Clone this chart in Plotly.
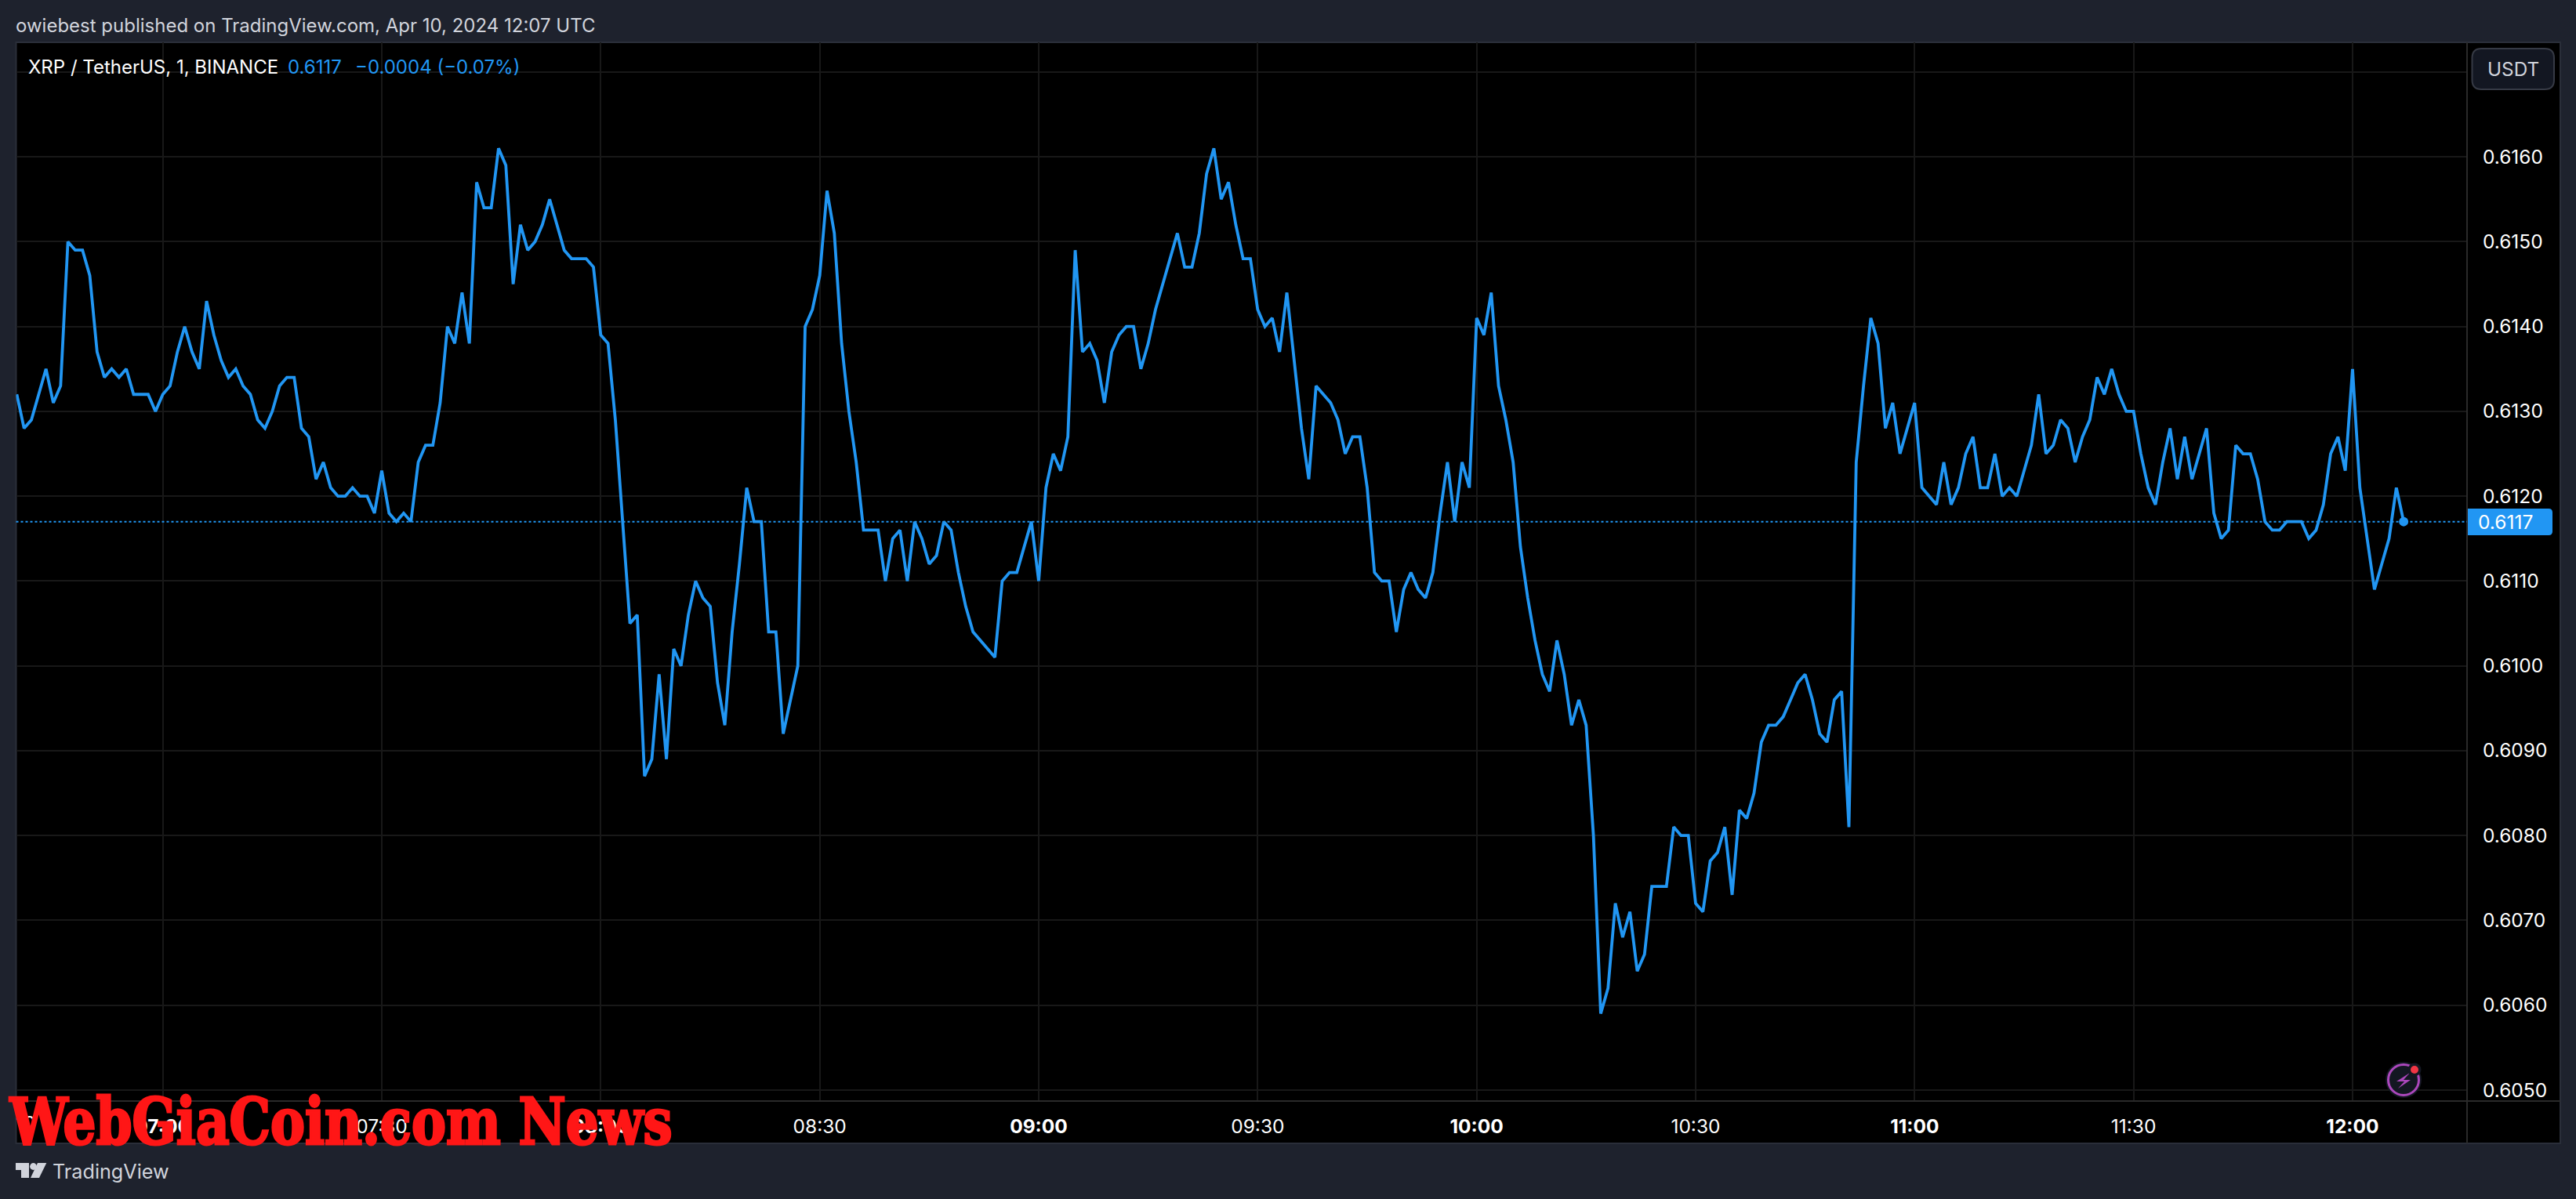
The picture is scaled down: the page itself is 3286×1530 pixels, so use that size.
import pandas as pd
import plotly.graph_objects as go

W, H = 3286, 1530

# --- data (1-minute closes, 06:40 to 12:07) ---
start_time = "2024-04-10 06:40"
closes = [
 .6132,.6128,.6129,.6132,.6135,.6131,.6133,.6150,.6149,.6149,.6146,.6137,.6134,.6135,.6134,.6135,.6132,.6132,.6132,.6130,
 .6132,.6133,.6137,.6140,.6137,.6135,.6143,.6139,.6136,.6134,.6135,.6133,.6132,.6129,.6128,.6130,.6133,.6134,.6134,.6128,
 .6127,.6122,.6124,.6121,.6120,.6120,.6121,.6120,.6120,.6118,.6123,.6118,.6117,.6118,.6117,.6124,.6126,.6126,.6131,.6140,
 .6138,.6144,.6138,.6157,.6154,.6154,.6161,.6159,.6145,.6152,.6149,.6150,.6152,.6155,.6152,.6149,.6148,.6148,.6148,.6147,
 .6139,.6138,.6129,.6117,.6105,.6106,.6087,.6089,.6099,.6089,.6102,.6100,.6106,.6110,.6108,.6107,.6098,.6093,.6104,.6112,
 .6121,.6117,.6117,.6104,.6104,.6092,.6096,.6100,.6140,.6142,.6146,.6156,.6151,.6138,.6130,.6124,.6116,.6116,.6116,.6110,
 .6115,.6116,.6110,.6117,.6115,.6112,.6113,.6117,.6116,.6111,.6107,.6104,.6103,.6102,.6101,.6110,.6111,.6111,.6114,.6117,
 .6110,.6121,.6125,.6123,.6127,.6149,.6137,.6138,.6136,.6131,.6137,.6139,.6140,.6140,.6135,.6138,.6142,.6145,.6148,.6151,
 .6147,.6147,.6151,.6158,.6161,.6155,.6157,.6152,.6148,.6148,.6142,.6140,.6141,.6137,.6144,.6136,.6128,.6122,.6133,.6132,
 .6131,.6129,.6125,.6127,.6127,.6121,.6111,.6110,.6110,.6104,.6109,.6111,.6109,.6108,.6111,.6118,.6124,.6117,.6124,.6121,
 .6141,.6139,.6144,.6133,.6129,.6124,.6114,.6108,.6103,.6099,.6097,.6103,.6099,.6093,.6096,.6093,.6080,.6059,.6062,.6072,
 .6068,.6071,.6064,.6066,.6074,.6074,.6074,.6081,.6080,.6080,.6072,.6071,.6077,.6078,.6081,.6073,.6083,.6082,.6085,.6091,
 .6093,.6093,.6094,.6096,.6098,.6099,.6096,.6092,.6091,.6096,.6097,.6081,.6124,.6133,.6141,.6138,.6128,.6131,.6125,.6128,
 .6131,.6121,.6120,.6119,.6124,.6119,.6121,.6125,.6127,.6121,.6121,.6125,.6120,.6121,.6120,.6123,.6126,.6132,.6125,.6126,
 .6129,.6128,.6124,.6127,.6129,.6134,.6132,.6135,.6132,.6130,.6130,.6125,.6121,.6119,.6124,.6128,.6122,.6127,.6122,.6125,
 .6128,.6118,.6115,.6116,.6126,.6125,.6125,.6122,.6117,.6116,.6116,.6117,.6117,.6117,.6115,.6116,.6119,.6125,.6127,.6123,
 .6135,.6121,.6115,.6109,.6112,.6115,.6121,.6117,
]
price_ticks = [0.6050,0.6060,0.6070,0.6080,0.6090,0.6100,0.6110,0.6120,0.6130,0.6140,0.6150,0.6160,0.6170]
price_labels = ["0.6050","0.6060","0.6070","0.6080","0.6090","0.6100","0.6110","0.6120","0.6130","0.6140","0.6150","0.6160",""]
time_ticks = ["2024-04-10 07:00","2024-04-10 07:30","2024-04-10 08:00","2024-04-10 08:30","2024-04-10 09:00","2024-04-10 09:30",
              "2024-04-10 10:00","2024-04-10 10:30","2024-04-10 11:00","2024-04-10 11:30","2024-04-10 12:00"]
time_labels = ["<b>07:00</b>","07:30","<b>08:00</b>","08:30","<b>09:00</b>","09:30","<b>10:00</b>","10:30","<b>11:00</b>","11:30","<b>12:00</b>"]
last_price = 0.6117
header_text = "owiebest published on TradingView.com, Apr 10, 2024 12:07 UTC"
symbol_text = "XRP / TetherUS, 1, BINANCE"
last_text = "0.6117"
change_text = "−0.0004 (−0.07%)"
watermark_text = "WebGiaCoin.com News"

times = pd.date_range(start_time, periods=len(closes), freq="1min")

# --- layout geometry in pixels ---
L, R, RO = 20.5, 3147, 3266      # pane left, pane right, outer right
T, B, BO = 54, 1405, 1459        # pane top, pane bottom, outer bottom
BG, BORDER, BLUE, TXT = "#1e222d", "#2a2e39", "#2196f3", "#d1d4dc"
FONT = "Inter, Roboto, sans-serif"

px = lambda x: x / W
py = lambda y: 1 - y / H

def rect(x0, y0, x1, y1, **kw):
    return dict(type="rect", xref="paper", yref="paper", x0=px(x0), x1=px(x1), y0=py(y0), y1=py(y1), **kw)

def line(x0, y0, x1, y1, color, width=2):
    return dict(type="line", xref="paper", yref="paper", x0=px(x0), x1=px(x1), y0=py(y0), y1=py(y1),
                line=dict(color=color, width=width))

def poly(points, fill, layer="above"):
    d = "M " + " L ".join(f"{px(a):.6f},{py(b):.6f}" for a, b in points) + " Z"
    return dict(type="path", xref="paper", yref="paper", path=d, fillcolor=fill, line=dict(width=0), layer=layer)

def circle(cx, cy, r, fill, stroke=None, sw=0):
    return dict(type="circle", xref="paper", yref="paper", x0=px(cx - r), x1=px(cx + r), y0=py(cy + r), y1=py(cy - r),
                fillcolor=fill, line=dict(color=stroke or fill, width=sw), layer="above")

def rrect(x0, y0, x1, y1, r, fill, stroke=None):
    X = lambda v: f"{px(v):.6f}"
    Y = lambda v: f"{py(v):.6f}"
    d = (f"M {X(x0+r)},{Y(y0)} L {X(x1-r)},{Y(y0)} Q {X(x1)},{Y(y0)} {X(x1)},{Y(y0+r)} "
         f"L {X(x1)},{Y(y1-r)} Q {X(x1)},{Y(y1)} {X(x1-r)},{Y(y1)} L {X(x0+r)},{Y(y1)} "
         f"Q {X(x0)},{Y(y1)} {X(x0)},{Y(y1-r)} L {X(x0)},{Y(y0+r)} Q {X(x0)},{Y(y0)} {X(x0+r)},{Y(y0)} Z")
    return dict(type="path", xref="paper", yref="paper", path=d, fillcolor=fill,
                line=dict(color=stroke or fill, width=2 if stroke else 0), layer="above")

def note(x, y, text, size, color, anchor="left", family=FONT, weight=None):
    f = dict(size=size, color=color, family=family)
    if weight:
        f["weight"] = weight
    return dict(xref="paper", yref="paper", x=px(x), y=py(y), text=text, showarrow=False, xanchor=anchor,
                yanchor="middle", font=f, borderpad=0, borderwidth=0)

fig = go.Figure()
fig.add_trace(go.Scatter(x=times, y=closes, mode="lines", line=dict(color=BLUE, width=3.8), hoverinfo="skip"))
fig.add_trace(go.Scatter(x=[times[-1]], y=[closes[-1]], mode="markers", marker=dict(color=BLUE, size=12), hoverinfo="skip"))

shapes = [
    rect(L, T, RO, BO, fillcolor="#000000", line=dict(color=BORDER, width=2), layer="below"),
    line(R, T, R, BO, "#2a2a2a"),
    line(L, B, RO, B, "#2a2a2a"),
    dict(type="line", xref="paper", yref="y", x0=px(L), x1=px(R), y0=last_price, y1=last_price,
         line=dict(color=BLUE, width=2, dash="3px 3px")),
    rect(R + 1, 649, 3245, 683, fillcolor=BLUE, line=dict(width=0), layer="above"),
    rrect(3235, 649, 3256, 683, 5, BLUE),
    rrect(3153.5, 62, 3258, 114, 12, "#131722", "#363a45"),
    # lightning badge
    circle(3066, 1378, 23, "#131722"),
    circle(3066, 1378, 19.5, "#131722", "#ab47bc", 3),
    poly([(3074, 1369), (3057, 1380), (3067, 1380), (3059, 1389), (3075, 1378), (3066, 1378)], "#ab47bc"),
    circle(3080, 1365, 8.5, "#131722"),
    circle(3080, 1365, 5, "#f23645"),
    # TradingView mark
    poly([(20, 1484), (37, 1484), (37, 1503), (27, 1503), (27, 1493), (20, 1493)], TXT),
    circle(42.5, 1488.5, 4.4, TXT),
    poly([(48, 1484), (59.3, 1484), (50, 1503), (39, 1503)], TXT),
]

annotations = [
    note(20, 32, header_text, 24, TXT),
    note(36, 85, symbol_text, 24, "#ffffff"),
    note(367, 85, last_text, 24, BLUE),
    note(453, 85, change_text, 24, BLUE),
    note(3205.5, 88, "USDT", 24.3, TXT, "center"),
    note(3161, 666, last_text, 24.5, "#ffffff"),
    note(67, 1495, "TradingView", 25.2, TXT),
    note(20, 1433, "10", 24.5, "#ffffff"),
    note(434, 1431, watermark_text, 82, "#ff1616", "center",
         family="'DejaVu Serif Condensed', 'DejaVu Serif', serif", weight=700),
]

fig.update_layout(
    width=W, height=H, margin=dict(l=0, r=0, t=0, b=0), paper_bgcolor=BG, plot_bgcolor="#000000",
    showlegend=False, shapes=shapes, annotations=annotations, hovermode=False,
    xaxis=dict(
        domain=[px(L), px(R)], type="date",
        range=["2024-04-10 06:39:54", "2024-04-10 12:15:41"],
        tickmode="array", tickvals=time_ticks, ticktext=time_labels,
        showgrid=True, gridcolor="#181818", gridwidth=2, zeroline=False, showline=False,
        ticks="outside", ticklen=11, tickcolor="rgba(0,0,0,0)",
        tickangle=0, tickfont=dict(size=24.5, color="#ffffff", family=FONT),
    ),
    yaxis=dict(
        domain=[py(B), py(T)], side="right", range=[0.60487, 0.61735],
        tickmode="array", tickvals=price_ticks, ticktext=price_labels,
        showgrid=True, gridcolor="#181818", gridwidth=2, zeroline=False, showline=False,
        ticks="outside", ticklen=14, tickcolor="rgba(0,0,0,0)",
        tickfont=dict(size=24.5, color="#ffffff", family=FONT),
    ),
)

# Fit the watermark to the reference's squeezed, heavier lettering.
squeeze = """
document.body.style.margin='0';
document.body.style.background='#1e222d';
document.documentElement.style.overflow='hidden';
document.querySelectorAll('.annotation-text').forEach(function(t){
  if (t.textContent.indexOf('WebGiaCoin') === 0) {
    t.setAttribute('textLength', '845');
    t.setAttribute('lengthAdjust', 'spacingAndGlyphs');
    t.style.stroke = '#ff1616';
    t.style.strokeWidth = '3px';
  }
});
"""
fig.write_html("out.html", config=dict(displayModeBar=False), post_script=squeeze)
